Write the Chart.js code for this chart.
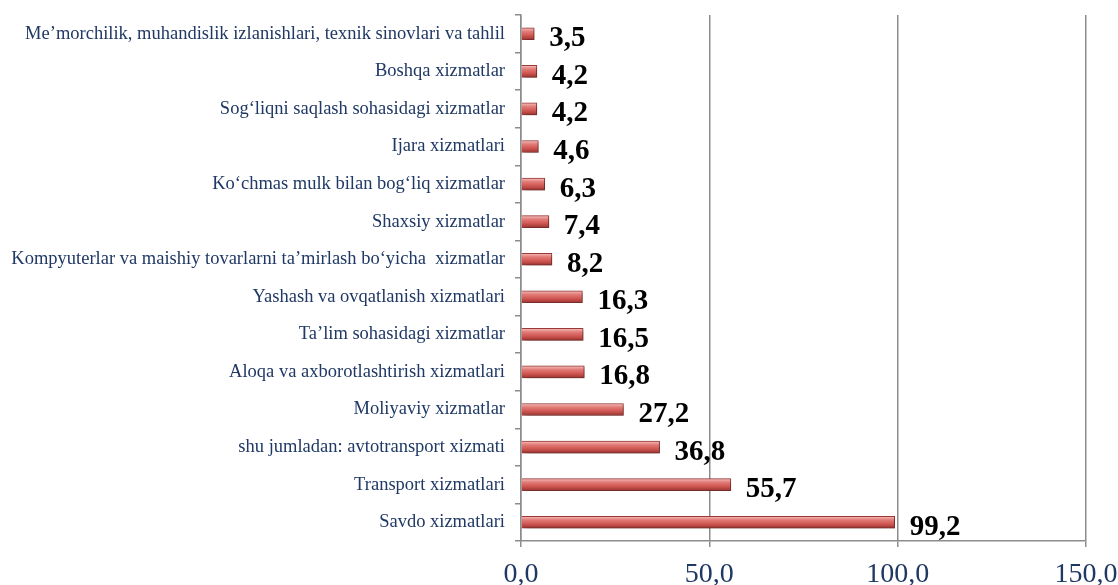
<!DOCTYPE html>
<html>
<head>
<meta charset="utf-8">
<script src="https://cdn.jsdelivr.net/npm/chart.js@4"></script>
<style>
  html, body { margin: 0; padding: 0; background: #fff; }
  #wrap { width: 1118px; height: 585px; }
</style>
</head>
<body>
<div id="wrap"><canvas id="chart" width="1118" height="585"></canvas></div>
<script>
const categories = [
    'Me\u2019morchilik, muhandislik izlanishlari, texnik sinovlari va tahlil',
    'Boshqa xizmatlar',
    'Sog\u2018liqni saqlash sohasidagi xizmatlar',
    'Ijara xizmatlari',
    'Ko\u2018chmas mulk bilan bog\u2018liq xizmatlar',
    'Shaxsiy xizmatlar',
    'Kompyuterlar va maishiy tovarlarni ta\u2019mirlash bo\u2018yicha  xizmatlar',
    'Yashash va ovqatlanish xizmatlari',
    'Ta\u2019lim sohasidagi xizmatlar',
    'Aloqa va axborotlashtirish xizmatlari',
    'Moliyaviy xizmatlar',
    'shu jumladan: avtotransport xizmati',
    'Transport xizmatlari',
    'Savdo xizmatlari'
];
const values = [3.5, 4.2, 4.2, 4.6, 6.3, 7.4, 8.2, 16.3, 16.5, 16.8, 27.2, 36.8, 55.7, 99.2];
const xTicks = [0, 50, 100, 150];

const serif = '"Liberation Serif", "Times New Roman", serif';
const navy = '#1f3864';
const barH = 12;

// vertical gradient for each bar, built from the category scale at draw time
function barFill(context) {
    const chart = context.chart;
    const yScale = chart.scales.y;
    if (!yScale || context.dataIndex === undefined) return '#c0504d';
    const cy = yScale.getPixelForValue(context.dataIndex);
    if (!isFinite(cy)) return '#c0504d';
    const g = chart.ctx.createLinearGradient(0, cy - barH / 2, 0, cy + barH / 2);
    g.addColorStop(0, '#f4c2c0');
    g.addColorStop(0.3, '#e27c78');
    g.addColorStop(0.65, '#cf5651');
    g.addColorStop(1, '#9a3330');
    return g;
}

const shadowPlugin = {
    id: 'barShadow',
    beforeDatasetDraw(chart) {
        const c = chart.ctx;
        c.save();
        c.shadowColor = 'rgba(0,0,0,0.35)';
        c.shadowBlur = 4;
        c.shadowOffsetX = 3;
        c.shadowOffsetY = 2;
    },
    afterDatasetDraw(chart) {
        chart.ctx.restore();
    }
};

const valueLabels = {
    id: 'valueLabels',
    afterDatasetsDraw(chart) {
        const c = chart.ctx;
        const meta = chart.getDatasetMeta(0);
        c.save();
        c.font = 'bold 29px ' + serif;
        c.fillStyle = '#000';
        c.textAlign = 'left';
        c.textBaseline = 'middle';
        meta.data.forEach((bar, i) => {
            const txt = values[i].toFixed(1).replace('.', ',');
            c.fillText(txt, bar.x + 15, bar.y + 5);
        });
        c.restore();
    }
};

new Chart(document.getElementById('chart'), {
    type: 'bar',
    data: {
        labels: categories,
        datasets: [{
            data: values,
            backgroundColor: barFill,
            borderColor: '#a33c39',
            borderWidth: 1,
            barThickness: barH
        }]
    },
    options: {
        indexAxis: 'y',
        responsive: false,
        animation: false,
        layout: { padding: { top: 15, right: 32, left: 0, bottom: 0 } },
        plugins: {
            legend: { display: false },
            tooltip: { enabled: false }
        },
        scales: {
            x: {
                min: 0,
                max: 150,
                afterBuildTicks(scale) {
                    scale.ticks = xTicks.map(v => ({ value: v }));
                },
                afterFit(scale) {
                    scale.height = 44;
                    scale.paddingLeft = 0;
                    scale.paddingRight = 0;
                },
                grid: {
                    color: '#8c8c8c',
                    lineWidth: 1.5,
                    tickLength: 6,
                    tickColor: '#8c8c8c'
                },
                border: { display: true, color: '#8c8c8c', width: 1.5 },
                ticks: {
                    font: { family: serif, size: 28 },
                    color: navy,
                    padding: 11,
                    maxRotation: 0,
                    callback: v => Number(v).toFixed(1).replace('.', ',')
                }
            },
            y: {
                afterFit(scale) {
                    scale.width = 521;
                    scale.paddingTop = 0;
                    scale.paddingBottom = 0;
                },
                grid: {
                    drawOnChartArea: false,
                    tickLength: 6,
                    tickColor: '#8c8c8c',
                    lineWidth: 1.5
                },
                border: { display: true, color: '#8c8c8c', width: 1.5 },
                ticks: {
                    font: { family: serif, size: 18.5 },
                    color: navy,
                    padding: 10,
                    autoSkip: false
                }
            }
        }
    },
    plugins: [shadowPlugin, valueLabels]
});
</script>
</body>
</html>
